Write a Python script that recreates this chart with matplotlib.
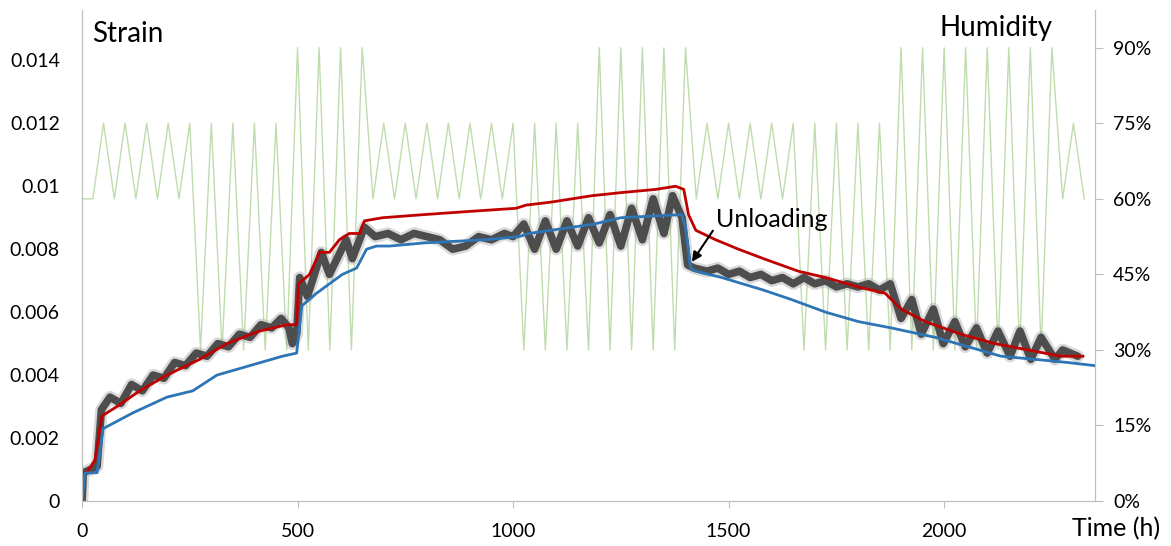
import matplotlib
matplotlib.use("Agg")
import matplotlib.pyplot as plt

plt.rcParams["font.family"] = ["Lato", "DejaVu Sans"]

# relative humidity schedule (h, %)
hum_t = [0, 25, 50, 75, 100, 125, 150, 175, 200, 225, 250,
         275, 300, 325, 350, 375, 400, 425, 450, 475,
         500, 525, 550, 575, 600, 625, 650,
         675, 700, 725, 750, 775, 800, 825, 850, 875, 900, 925, 950, 975, 1000,
         1025, 1050, 1075, 1100, 1125, 1150, 1175,
         1200, 1225, 1250, 1275, 1300, 1325, 1350, 1375, 1400,
         1425, 1450, 1475, 1500, 1525, 1550, 1575, 1600, 1625, 1650,
         1675, 1700, 1725, 1750, 1775, 1800, 1825, 1850, 1875,
         1900, 1925, 1950, 1975, 2000, 2025, 2050, 2075, 2100, 2125, 2150,
         2175, 2200, 2225, 2250,
         2275, 2300, 2325]
hum_rh = [60, 60, 75, 60, 75, 60, 75, 60, 75, 60, 75,
          30, 75, 30, 75, 30, 75, 30, 75, 30,
          90, 30, 90, 30, 90, 30, 90,
          60, 75, 60, 75, 60, 75, 60, 75, 60, 75, 60, 75, 60, 75,
          30, 75, 30, 75, 30, 75, 30,
          90, 30, 90, 30, 90, 30, 90, 30, 90,
          60, 75, 60, 75, 60, 75, 60, 75, 60, 75,
          30, 75, 30, 75, 30, 75, 30, 75, 30,
          90, 30, 90, 30, 90, 30, 90, 30, 90, 30, 90,
          30, 90, 30, 90,
          60, 75, 60]

# model 1 (red)
red_t = [0, 2, 12, 30, 46, 81, 134, 197, 273, 336, 412, 475, 498,
         502, 528, 551, 574, 597, 620, 644, 655, 697, 794, 898, 1007, 1030,
         1090, 1183, 1252, 1331, 1377, 1396, 1407, 1424, 1470, 1523, 1581,
         1662, 1725, 1801, 1863, 1900, 1956, 2039, 2118, 2194, 2271, 2322]
red_s = [0, 0.00090, 0.00092, 0.0013, 0.0027, 0.0030, 0.0035, 0.0040, 0.0045,
         0.0050, 0.0054, 0.0056, 0.0056,
         0.0069, 0.0072, 0.0079, 0.0079, 0.0083, 0.0085, 0.0085, 0.0089, 0.0090,
         0.0091, 0.0092, 0.0093, 0.0094,
         0.0095, 0.0097, 0.0098, 0.0099, 0.0100, 0.0099, 0.0091, 0.0086, 0.0083,
         0.0080, 0.0077,
         0.0073, 0.0071, 0.0068, 0.0066, 0.0061, 0.0057, 0.0053, 0.0050, 0.0048,
         0.0046, 0.0046]

# model 2 (blue)
blue_t = [0, 7, 35, 49, 118, 197, 257, 313, 389, 465, 498, 510, 544, 574,
          604, 637, 660, 683, 713, 794, 935, 1014, 1037, 1188, 1250, 1391,
          1400, 1412, 1424, 1484, 1581, 1646, 1725, 1801, 1877, 1979, 2056,
          2132, 2211, 2287, 2350]
blue_s = [0, 0.00089, 0.0009, 0.0023, 0.0028, 0.0033, 0.0035, 0.0040, 0.0043,
          0.0046, 0.0047, 0.0062, 0.0066, 0.0069,
          0.0072, 0.0074, 0.0080, 0.0081, 0.0081, 0.0082, 0.0083, 0.0084,
          0.0085, 0.0088, 0.0090, 0.0091,
          0.0087, 0.0074, 0.0073, 0.0071, 0.0067, 0.0064, 0.0060, 0.0057,
          0.0055, 0.0052, 0.0049,
          0.0046, 0.0045, 0.0044, 0.0043]

# experiment (grey)
exp_t = [0, 3, 20, 35, 45, 65, 90, 115, 140, 165, 190, 215, 240, 265, 290,
         315, 340, 365, 390, 415, 440, 462, 480, 488, 498, 505, 523, 555, 574,
         613, 627, 655, 680, 710, 740, 770, 800, 830, 860, 890, 920, 950, 980,
         1000, 1025, 1050, 1075, 1100, 1125, 1150, 1175, 1200, 1225, 1250,
         1275, 1300, 1325, 1350, 1370, 1392, 1405, 1420, 1450, 1475, 1500,
         1525, 1550, 1575, 1600, 1625, 1650, 1675, 1700, 1725, 1750, 1775,
         1800, 1825, 1850, 1875, 1900, 1925, 1947, 1975, 1998, 2025, 2049,
         2075, 2100, 2125, 2153, 2176, 2201, 2225, 2257, 2275, 2310]
exp_s = [0, 0.0009, 0.0010, 0.0011, 0.0029, 0.0033, 0.0031, 0.0037, 0.0035,
         0.0040, 0.0039, 0.0044, 0.0043, 0.0047, 0.0046,
         0.0050, 0.0049, 0.0053, 0.0052, 0.0056, 0.0055, 0.0058, 0.0055,
         0.0050, 0.0053, 0.0071, 0.0065, 0.0079, 0.0072,
         0.0083, 0.0077, 0.0087, 0.0084, 0.0085, 0.0083, 0.0085, 0.0084,
         0.0083, 0.0080, 0.0081, 0.0084, 0.0083, 0.0085,
         0.0084, 0.0088, 0.0080, 0.0089, 0.0080, 0.0089, 0.0081, 0.0090,
         0.0082, 0.0091, 0.0081,
         0.0093, 0.0083, 0.0096, 0.0085, 0.0097, 0.0090, 0.0075, 0.0074,
         0.0073, 0.0074, 0.0072,
         0.0073, 0.0071, 0.0072, 0.0070, 0.0071, 0.0069, 0.0071, 0.0069,
         0.0070, 0.0068, 0.0069,
         0.0068, 0.0069, 0.0067, 0.0069, 0.0058, 0.0064, 0.0053, 0.0061,
         0.0050, 0.0057, 0.0049,
         0.0055, 0.0047, 0.0054, 0.0046, 0.0054, 0.0045, 0.0052, 0.0045,
         0.0048, 0.0046]

strain_ticks = [0, 0.002, 0.004, 0.006, 0.008, 0.01, 0.012, 0.014]
strain_labels = ["0", "0.002", "0.004", "0.006", "0.008", "0.01", "0.012", "0.014"]
hum_ticks = [0, 15, 30, 45, 60, 75, 90]
hum_labels = ["0%", "15%", "30%", "45%", "60%", "75%", "90%"]
time_ticks = [0, 500, 1000, 1500, 2000]

W, H = 1171, 546
fig = plt.figure(figsize=(W / 100, H / 100), dpi=100)
ax = fig.add_axes([82 / W, 1 - 501 / H, (1095 - 82) / W, (501 - 10) / H])
ax2 = ax.twinx()

ax2.plot(hum_t, hum_rh, color="#bfdcad", lw=1.0)
ax2.set_ylim(0, 97.5)
ax2.set_yticks(hum_ticks)
ax2.set_yticklabels(hum_labels)

# experimental curve: blurred thick grey
ax.plot(exp_t, exp_s, color="#a0a0a0", lw=9, alpha=0.4, solid_capstyle="round",
        solid_joinstyle="round")
ax.plot(exp_t, exp_s, color="#4d4d4d", lw=5.5, solid_capstyle="round",
        solid_joinstyle="round")
ax.plot(red_t, red_s, color="#c00000", lw=2)
ax.plot(blue_t, blue_s, color="#2e75b6", lw=2)

ax.set_zorder(ax2.get_zorder() + 1)
ax.patch.set_visible(False)

ax.set_xlim(0, 2350)
ax.set_ylim(0, 0.0156)
ax.set_xticks(time_ticks)
ax.set_yticks(strain_ticks)
ax.set_yticklabels(strain_labels)

for a in (ax, ax2):
    for s in a.spines.values():
        s.set_color("#bfbfbf")
    a.spines["top"].set_visible(False)
ax.tick_params(axis="y", length=0, pad=16, labelsize=14)
ax.tick_params(axis="x", length=5, color="#bfbfbf", pad=11, labelsize=14)
ax2.tick_params(axis="y", length=6, color="#bfbfbf", pad=7, labelsize=14)

fig.text(92 / W, 1 - 42 / H, "Strain", fontsize=20, va="baseline", ha="left")
fig.text(1053 / W, 1 - 36 / H, "Humidity", fontsize=20, va="baseline", ha="right")
fig.text(1160 / W, 1 - 536 / H, "Time (h)", fontsize=18, va="baseline", ha="right")

ax.annotate("Unloading", xy=(1415, 0.0076), xytext=(1470, 0.0087),
            fontsize=18, va="baseline", ha="left",
            arrowprops=dict(arrowstyle="-|>", color="black", lw=1.5,
                            mutation_scale=14, shrinkA=0, shrinkB=0,
                            relpos=(0, 0.2)))

fig.savefig("out.png", dpi=100)
